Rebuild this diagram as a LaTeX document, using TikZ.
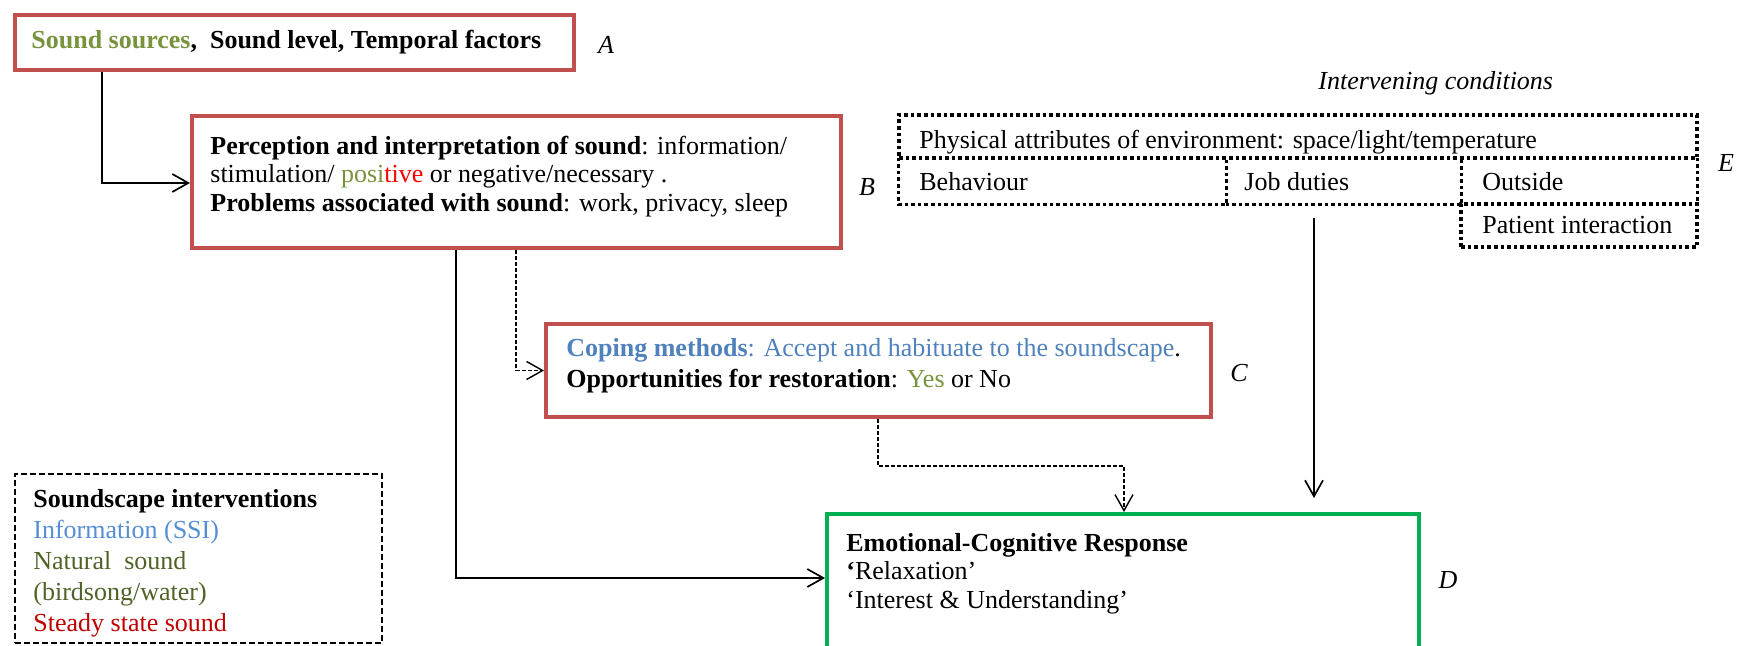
\documentclass[tikz,border=0pt]{standalone}
\usepackage{fontspec}
\setmainfont{Liberation Serif}
\usetikzlibrary{arrows.meta,fit}

\definecolor{boxred}{HTML}{C0504D}
\definecolor{srcgreen}{HTML}{77933C}
\definecolor{copeblue}{HTML}{4F81BD}
\definecolor{infoblue}{HTML}{558ED5}
\definecolor{natgreen}{HTML}{4F6228}
\definecolor{steadyred}{HTML}{C00000}
\definecolor{respgreen}{HTML}{00B050}

\begin{document}
\begin{tikzpicture}[x=0.5pt,y=-0.5pt,
  redbox/.style={draw=boxred,line width=2pt,inner sep=0pt},
  greenbox/.style={draw=respgreen,line width=2pt,inner sep=0pt},
  dotline/.style={draw=black,line width=1.8pt,dash pattern=on 1.8pt off 1.5pt},
  dotbox/.style={dotline,inner sep=0pt},
  cell/.style={inner sep=0pt},
  legendbox/.style={draw=black,line width=0.9pt,dash pattern=on 3pt off 1.5pt,inner sep=0pt},
  txt/.style={font=\fontsize{13}{#1}\selectfont,inner sep=0pt,align=left,anchor=north west},
  txt/.default=14.25,
  oneline/.style={font=\fontsize{13}{15}\selectfont,inner sep=0pt,anchor=base west},
  tag/.style={font=\fontsize{13}{15}\selectfont\itshape,inner sep=0pt},
  flow/.style={draw=black,line width=0.85pt,-{Straight Barb[length=8pt,width=9pt]}},
  flowdash/.style={flow,line width=0.7pt,dash pattern=on 2pt off 1pt},
]
\useasboundingbox (0,0) rectangle (1737,646);
\clip (0,0) rectangle (1737,646);

% main boxes
\node[redbox,fit={(15,15) (574,70)}] (A) {};
\node[redbox,fit={(192,116) (841,248)}] (B) {};
\node[redbox,fit={(546,324) (1211,417)}] (C) {};
\node[greenbox,fit={(827,514) (1419,690)}] (D) {};
\node[legendbox,fit={(15,474) (382,643)}] (S) {};

% intervening conditions: a grid of dotted cells, shared edges drawn once
\node[dotbox,fit={(899,115) (1697,158)}] (phys) {};
\node[cell,fit={(899,158) (1226,204)}] (beh) {};
\node[cell,fit={(1226,158) (1461,204)}] (job) {};
\node[cell,fit={(1461,158) (1697,204)}] (out) {};
\node[dotbox,fit={(1461,204) (1697,247)}] (pat) {};
\draw[dotline] (beh.north west) -- (beh.south west) -- (beh.south east) -- (beh.north east);
\draw[dotline] (job.south west) -- (job.south east) -- (job.north east);
\draw[dotline] (out.north east) -- (out.south east);

% texts
\node[oneline] (tA) at (31,49) {\textbf{\textcolor{srcgreen}{Sound sources},\ \ Sound level, Temporal factors}};
\node[txt] (tB) at (210,134) {\strut\textbf{Perception and interpretation of sound}: information/\\
  stimulation/ \textcolor{srcgreen}{posi}\textcolor{red}{tive} or negative/necessary .\\
  \textbf{Problems associated with sound}: work, privacy, sleep};
\node[txt=15.3] (tC) at (566,335) {\strut\textcolor{copeblue}{\textbf{Coping methods}: Accept and habituate to the soundscape}.\\
  \textbf{Opportunities for restoration}: \textcolor{srcgreen}{Yes} or No};
\node[txt] (tD) at (846,531) {\strut\textbf{Emotional-Cognitive Response}\\
  \textbf{‘}Relaxation’\\
  ‘Interest \& Understanding’};
\node[txt=15.4] (tS) at (33,486) {\strut\textbf{Soundscape interventions}\\
  \textcolor{infoblue}{Information (SSI)}\\
  \textcolor{natgreen}{Natural\ \ sound}\\
  \textcolor{natgreen}{(birdsong/water)}\\
  \textcolor{steadyred}{Steady state sound}};

\node[oneline,font=\fontsize{13}{15}\selectfont\itshape] (tIC) at (1318,90) {Intervening conditions};
\node[oneline] (tPh) at (919,149) {Physical attributes of environment: space/light/temperature};
\node[oneline] (tBe) at (919,191) {Behaviour};
\node[oneline] (tJo) at (1244,191) {Job duties};
\node[oneline] (tOu) at (1482,191) {Outside};
\node[oneline] (tPa) at (1482,234) {Patient interaction};

% letter tags
\node[tag] (lA) at (606,45) {A};
\node[tag] (lB) at (867,187) {B};
\node[tag] (lC) at (1239,373) {C};
\node[tag] (lD) at (1448,580) {D};
\node[tag] (lE) at (1726,163) {E};

% connectors
\coordinate (k1) at (102,183);
\coordinate (k2) at (456,578);
\coordinate (k3) at (516,369);
\coordinate (k4a) at (878,466);
\coordinate (k4b) at (1124,466);
\coordinate (k5) at (1314,219);

\draw[flow] (A.south -| k1) |- (B.west |- k1);
\draw[flow] (B.south -| k2) |- (D.west |- k2);
\draw[flowdash] (B.south -| k3) |- (C.west);
\draw[flowdash] (C.south -| k4a) -- (k4a) -- (k4b) -- (D.north -| k4b);
\draw[flow,shorten <=7pt,shorten >=7pt] (job.south -| k5) -- (D.north -| k5);
\end{tikzpicture}
\end{document}
